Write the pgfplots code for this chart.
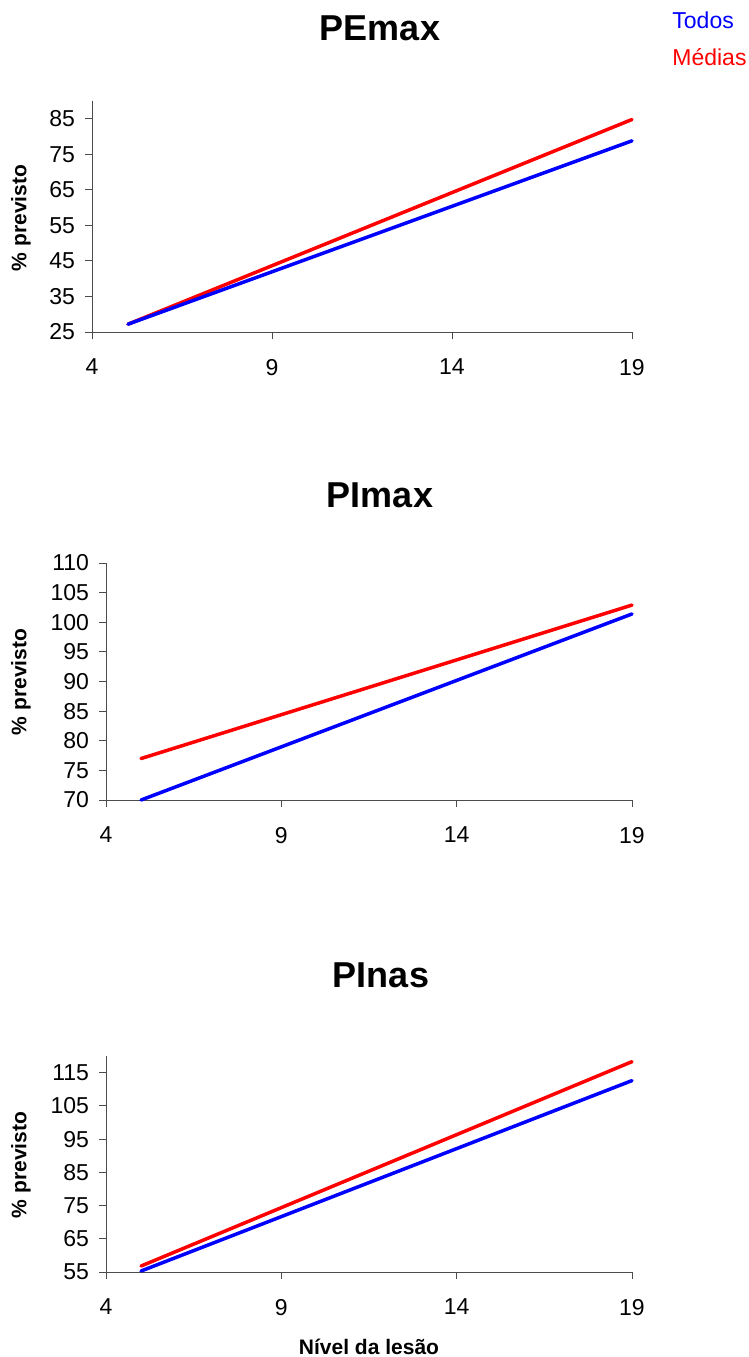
\documentclass[border=0pt]{standalone}
\usepackage{fontspec}
\setmainfont{Liberation Sans}
\usepackage{pgfplots}
\pgfplotsset{compat=1.18}

\definecolor{todos}{RGB}{0,0,255}
\definecolor{medias}{RGB}{255,0,0}

\pgfplotsset{
  painel/.style={
    anchor=south west,
    scale only axis,
    axis x line=bottom, axis y line=left,
    axis line style={-, draw=black!70, line width=0.5pt},
    tick style={draw=black!70, line width=0.5pt},
    tick align=outside,
    major tick length=3.5pt,
    xmin=4, xmax=19, xtick={4,9,14,19},
    ticklabel style={font=\fontsize{11.5}{13}\selectfont},
    /pgf/number format/assume math mode=true,
    xticklabel style={yshift=-6.5pt},
    yticklabel style={xshift=-1.5pt},
    clip=false,
  },
  todosline/.style={color=todos, line width=1.75pt, line cap=round},
  mediasline/.style={color=medias, line width=1.75pt, line cap=round},
}

\begin{document}
\begin{tikzpicture}
\path[use as bounding box] (0,0) rectangle (374.5pt,-678.5pt);

% PEmax
\begin{axis}[painel, at={(46pt,-166pt)}, width=270pt, height=115.5pt,
  ymin=25, ymax=90, ytick={25,35,...,85}]
  \addplot[mediasline] coordinates {(5,27.2) (19,84.8)};
  \addplot[todosline] coordinates {(5,27.2) (19,78.8)};
\end{axis}

% PImax
\begin{axis}[painel, at={(53pt,-400pt)}, width=263pt, height=118.5pt,
  ymin=70, ymax=110, ytick={70,75,...,110}]
  \addplot[mediasline] coordinates {(5,77.0) (19,102.9)};
  \addplot[todosline] coordinates {(5,70.0) (19,101.4)};
\end{axis}

% PInas
\begin{axis}[painel, at={(53pt,-636pt)}, width=263pt, height=108pt,
  ymin=55, ymax=120, ytick={55,65,...,115}]
  \addplot[mediasline] coordinates {(5,56.8) (19,118.3)};
  \addplot[todosline] coordinates {(5,55.3) (19,112.6)};
\end{axis}

\node[font=\fontsize{18}{21}\selectfont\bfseries] at (190pt,-14pt) {PEmax};
\node[font=\fontsize{18}{21}\selectfont\bfseries] at (190pt,-247.5pt) {PImax};
\node[font=\fontsize{18}{21}\selectfont\bfseries] at (190.5pt,-487.5pt) {PInas};

\foreach \yy in {109,341,582.5}
  \node[rotate=90, font=\fontsize{10.5}{12}\selectfont\bfseries] at (10.5pt,-\yy pt) {\% previsto};

\node[font=\fontsize{10.5}{12}\selectfont\bfseries] at (184.5pt,-673.5pt) {Nível da lesão};

\node[anchor=west, inner sep=0pt, text=todos, font=\fontsize{11.5}{13}\selectfont] at (336pt,-10pt) {Todos};
\node[anchor=west, inner sep=0pt, text=medias, font=\fontsize{11.5}{13}\selectfont] at (336pt,-28.5pt) {Médias};
\end{tikzpicture}
\end{document}
